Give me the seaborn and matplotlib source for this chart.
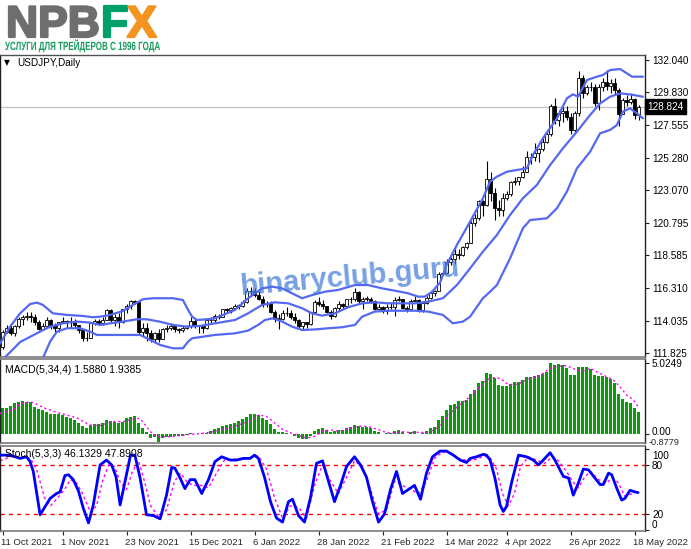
import numpy as np
import pandas as pd
import matplotlib
matplotlib.use("Agg")
import matplotlib.pyplot as plt
import matplotlib.transforms as mtransforms
import matplotlib.patheffects as pe
from matplotlib.textpath import TextPath
from matplotlib.patches import PathPatch
from matplotlib.font_manager import FontProperties
import seaborn as sns

W, H = 691, 549

# ---------------- price data (daily USDJPY candles) ----------------
first_open = 112.23
close = [113.30, 113.60, 113.25, 113.68, 114.21, 114.32, 114.40, 114.32, 113.99, 113.50,
         113.70, 114.12, 113.80, 113.55, 113.97, 114.02, 113.95, 114.05, 113.75, 113.40,
         112.85, 112.90, 113.90, 114.05, 113.90, 114.15, 114.80, 114.10, 114.30, 114.00,
         114.85, 115.10, 115.40, 115.35, 113.30, 113.60, 113.20, 112.80, 113.20, 112.80,
         113.50, 113.55, 113.70, 113.50, 113.40, 113.60, 113.70, 114.05, 113.70, 113.70,
         113.60, 114.10, 114.10, 114.40, 114.35, 114.85, 114.80, 114.95, 115.10, 115.10,
         115.35, 116.10, 116.10, 115.85, 115.55, 115.20, 115.30, 114.65, 114.20, 114.20,
         114.60, 114.60, 114.30, 114.10, 113.70, 113.95, 113.85, 114.65, 115.35, 115.25,
         115.10, 114.70, 114.40, 114.95, 115.25, 115.10, 115.55, 115.55, 116.05, 115.40,
         115.60, 115.60, 115.45, 114.90, 115.00, 114.75, 115.05, 115.00, 115.50, 115.55,
         114.95, 114.90, 115.45, 115.50, 114.80, 115.30, 115.65, 116.00, 116.10, 117.30,
         117.35, 118.15, 118.30, 118.70, 118.60, 119.15, 119.45, 120.80, 121.15, 122.30,
         122.05, 123.85, 122.90, 121.85, 121.70, 122.50, 122.80, 123.60, 123.70, 123.95,
         124.35, 125.35, 125.35, 125.60, 125.90, 126.40, 126.95, 128.90, 127.90, 128.40,
         128.50, 128.10, 127.25, 128.40, 130.80, 129.80, 130.15, 130.15, 129.10, 130.20,
         130.55, 130.25, 130.45, 129.95, 128.35, 129.25, 129.15, 129.35, 128.25, 128.82]
high = [113.45, 113.80, 113.75, 113.80, 114.30, 114.45, 114.70, 114.70, 114.50, 114.10,
        113.90, 114.30, 114.20, 113.90, 114.00, 114.30, 114.10, 114.30, 114.20, 113.80,
        113.50, 113.30, 114.00, 114.20, 114.20, 114.30, 114.90, 114.90, 114.50, 114.60,
        114.90, 115.20, 115.50, 115.50, 115.40, 113.90, 113.90, 113.40, 113.30, 113.50,
        113.60, 113.80, 113.90, 113.70, 113.60, 113.70, 113.80, 114.30, 114.20, 113.80,
        113.80, 114.20, 114.30, 114.50, 114.50, 114.90, 114.95, 115.00, 115.20, 115.20,
        115.50, 116.35, 116.40, 116.30, 116.10, 115.80, 115.40, 115.40, 114.80, 114.50,
        114.80, 115.00, 114.80, 114.60, 114.20, 114.00, 114.00, 114.70, 115.50, 115.70,
        115.50, 115.10, 114.80, 115.00, 115.40, 115.30, 115.60, 115.70, 116.30, 116.10,
        115.70, 115.80, 115.70, 115.50, 115.20, 115.10, 115.20, 115.30, 115.70, 115.80,
        115.60, 115.10, 115.60, 115.80, 115.60, 115.40, 115.80, 116.10, 116.20, 117.40,
        117.40, 118.30, 118.45, 119.10, 119.00, 119.20, 119.50, 120.95, 121.40, 122.40,
        122.40, 125.10, 124.30, 123.20, 122.40, 122.90, 123.00, 123.70, 124.00, 124.00,
        124.70, 125.80, 125.60, 126.30, 126.00, 126.70, 127.10, 129.00, 129.40, 128.60,
        128.80, 128.90, 128.40, 128.50, 131.25, 131.00, 130.30, 130.50, 130.40, 130.40,
        130.80, 131.35, 130.70, 130.80, 130.10, 129.40, 129.60, 129.70, 129.40, 128.95]
low = [112.10, 113.20, 113.10, 113.00, 113.60, 113.80, 114.10, 114.00, 113.80, 113.40,
       113.40, 113.60, 113.50, 113.30, 113.30, 113.90, 113.60, 113.60, 113.60, 113.20,
       112.70, 112.70, 112.90, 113.80, 113.80, 113.80, 114.10, 114.00, 113.70, 113.60,
       113.90, 114.60, 114.90, 115.20, 113.10, 113.00, 112.70, 112.60, 112.60, 112.60,
       112.80, 113.30, 113.40, 113.30, 113.20, 113.30, 113.50, 113.60, 113.60, 113.20,
       113.20, 113.50, 113.90, 114.00, 114.20, 114.30, 114.60, 114.60, 114.90, 114.90,
       115.00, 115.30, 115.80, 115.70, 115.50, 115.00, 115.00, 114.60, 114.00, 113.50,
       114.10, 114.40, 114.20, 113.90, 113.60, 113.50, 113.60, 113.80, 114.60, 115.10,
       114.90, 114.60, 114.20, 114.30, 114.80, 114.90, 115.00, 115.30, 115.40, 115.20,
       114.90, 115.40, 115.30, 114.80, 114.80, 114.60, 114.50, 114.90, 114.40, 115.40,
       114.90, 114.70, 114.90, 115.40, 114.70, 114.70, 115.20, 115.60, 115.80, 116.10,
       117.20, 117.30, 117.90, 118.00, 118.30, 118.50, 119.00, 119.40, 120.60, 121.00,
       121.30, 122.00, 122.30, 121.00, 121.30, 121.30, 122.40, 122.70, 123.40, 123.40,
       123.90, 124.30, 124.90, 125.10, 125.00, 125.80, 126.30, 126.80, 127.60, 127.50,
       127.80, 127.90, 126.95, 127.10, 128.20, 129.40, 129.60, 129.90, 128.90, 128.60,
       129.90, 130.00, 129.80, 129.60, 127.50, 128.30, 128.90, 129.00, 128.00, 127.90]
last_price = 128.824

# Bollinger band lines (bar position, price)
upper_x = [-0.6, 1.9, 4.4, 6.9, 8.6, 10.1, 12.6, 16.1, 20.1, 22.6, 24.4, 26.9, 30.1, 32.6, 35.1, 37.6,
           42.6, 45.1, 46.4, 47.4, 48.6, 51.1, 53.1, 58.1, 61.4, 64.9, 67.4, 69.9, 72.4, 74.9, 77.4,
           80.6, 83.9, 88.1, 91.4, 94.9, 98.1, 101.4, 103.9, 105.6, 107.4, 109.4, 111.0, 113.6, 116.9,
           120.1, 121.9, 123.6, 126.1, 128.6, 131.1, 132.6, 135.1, 138.6, 141.1, 142.6, 143.9, 146.1,
           148.6, 150.1, 151.9, 154.4, 156.1, 157.4, 160.1]
upper_y = [112.51, 113.66, 114.58, 115.22, 115.32, 115.16, 114.58, 114.47, 114.40, 114.31, 114.35,
           114.47, 114.74, 115.16, 115.55, 115.62, 115.62, 115.50, 114.81, 114.35, 114.12, 114.17,
           114.24, 114.81, 115.62, 116.30, 116.42, 116.30, 115.96, 115.62, 115.84, 116.07, 116.19,
           116.53, 116.53, 116.30, 116.14, 115.96, 115.73, 115.73, 116.07, 116.70, 117.90, 119.29,
           120.90, 122.51, 123.66, 124.00, 124.34, 124.46, 124.57, 125.49, 126.64, 128.02, 129.40,
           129.67, 129.51, 130.66, 130.89, 131.01, 131.35, 131.42, 131.12, 130.89, 130.89]
mid_x = [0.1, 4.4, 9.4, 11.9, 15.1, 18.6, 21.9, 24.4, 26.9, 30.1, 33.6, 36.1, 39.4, 42.6, 46.1, 49.4,
         53.1, 58.1, 61.4, 64.9, 68.1, 71.4, 74.9, 77.4, 79.9, 83.1, 86.4, 89.9, 93.1, 96.4, 99.9,
         103.1, 106.4, 110.1, 113.6, 116.9, 120.1, 123.6, 126.9, 130.1, 133.6, 136.9, 140.1, 143.6,
         146.9, 149.4, 151.9, 154.4, 156.9, 160.1]
mid_y = [111.40, 112.60, 113.32, 113.66, 113.89, 114.01, 113.94, 113.78, 113.89, 114.01, 114.17,
         114.17, 114.00, 113.78, 113.66, 113.71, 113.89, 114.12, 114.58, 115.16, 115.34, 115.27,
         114.93, 114.58, 114.42, 114.58, 115.00, 115.27, 115.34, 115.27, 115.27, 115.27, 115.38,
         115.62, 116.53, 117.68, 118.83, 119.98, 121.36, 122.51, 123.43, 124.80, 125.95, 127.10,
         128.25, 129.05, 129.51, 129.74, 129.67, 129.51]
lower_x = [10.1, 11.9, 13.6, 16.1, 19.4, 21.9, 23.6, 26.9, 34.4, 36.1, 39.4, 42.6, 45.1, 46.4, 47.4,
           49.4, 53.1, 58.1, 61.4, 63.9, 65.6, 67.6, 69.9, 72.4, 74.9, 78.1, 81.4, 84.9, 88.1, 89.9,
           93.1, 96.4, 103.1, 106.4, 110.1, 112.6, 115.1, 116.9, 120.1, 121.9, 123.6, 126.9, 130.1,
           131.9, 136.1, 138.6, 141.1, 143.6, 146.9, 149.4, 151.9, 153.6, 155.1, 156.9, 158.6, 160.1]
lower_y = [111.50, 112.63, 113.32, 113.55, 113.55, 113.32, 113.09, 113.09, 113.09, 112.86, 112.40,
           112.17, 112.17, 112.63, 112.86, 112.94, 113.09, 113.20, 113.39, 113.78, 114.12, 114.24,
           114.01, 113.66, 113.43, 113.47, 113.55, 113.62, 113.78, 114.35, 114.70, 114.76, 114.76,
           114.70, 114.47, 113.89, 114.01, 114.35, 115.62, 116.07, 116.53, 118.37, 120.44, 121.01,
           121.13, 121.82, 122.97, 124.57, 125.72, 126.99, 127.22, 127.56, 128.48, 128.71, 128.36,
           128.02]

# MACD(5,34,4) histogram, one value per bar, and its signal line
macd_hist = [1.82, 1.87, 2.01, 2.18, 2.30, 2.37, 2.30, 2.25, 1.94, 1.78,
             1.71, 1.54, 1.40, 1.40, 1.40, 1.35, 1.23, 1.11, 0.97, 0.76,
             0.59, 0.45, 0.64, 0.69, 0.69, 0.76, 0.97, 0.92, 0.88, 0.76,
             0.88, 1.11, 1.23, 1.30, 0.76, 0.40, 0.12, -0.31, -0.19, -0.55,
             -0.31, -0.19, -0.19, -0.17, -0.12, -0.12, -0.07, 0.07, 0.02, 0.02,
             0.05, 0.09, 0.19, 0.36, 0.45, 0.59, 0.64, 0.73, 0.81, 0.92,
             1.04, 1.23, 1.40, 1.45, 1.35, 1.15, 1.00, 0.70, 0.35, 0.15,
             0.12, 0.10, 0.00, -0.12, -0.32, -0.35, -0.38, -0.15, 0.20, 0.35,
             0.40, 0.30, 0.15, 0.20, 0.30, 0.30, 0.40, 0.48, 0.65, 0.55,
             0.50, 0.48, 0.40, 0.20, 0.12, 0.02, 0.05, 0.05, 0.20, 0.28,
             0.12, 0.03, 0.15, 0.22, 0.02, 0.08, 0.22, 0.40, 0.50, 1.00,
             1.30, 1.70, 2.06, 2.13, 2.35, 2.35, 2.42, 2.82, 3.13, 3.60,
             3.77, 4.31, 4.24, 3.96, 3.48, 3.41, 3.41, 3.53, 3.72, 3.72,
             3.84, 4.08, 4.08, 4.15, 4.19, 4.24, 4.38, 5.02, 4.91, 4.95,
             4.91, 4.67, 4.19, 4.19, 4.76, 4.76, 4.76, 4.62, 4.19, 4.15,
             4.15, 4.03, 3.91, 3.60, 2.84, 2.49, 2.30, 2.18, 1.82, 1.59]
macd_sig_x = [-0.6, 2.7, 4.4, 6.9, 8.5, 10.2, 11.9, 13.5, 16.0, 18.5, 20.2, 21.9, 24.4, 26.0, 27.7,
              30.2, 32.7, 34.4, 36.0, 37.7, 39.4, 41.9, 44.4, 46.9, 49.4, 51.9, 54.4, 56.9, 59.4,
              61.9, 64, 66, 68, 70, 72, 74, 76, 78, 80, 82, 84, 86, 88, 90, 92, 94, 96, 98, 100,
              102, 104, 106, 108, 110, 111.9, 114.4, 116.9, 119.4, 121.0, 122.7, 124.4, 126.0,
              127.7, 129.4, 131.9, 134.4, 136.9, 138.5, 141.0, 143.5, 145.2, 146.9, 148.5, 150.2,
              152.7, 154.4, 156.0, 157.7, 158.9]
macd_sig_y = [1.47, 1.71, 2.13, 2.30, 2.13, 1.87, 1.71, 1.54, 1.35, 1.16, 0.88, 0.64, 0.59, 0.76,
              0.88, 0.88, 1.07, 1.11, 0.52, -0.07, -0.19, -0.19, -0.12, -0.02, 0.02, 0.12, 0.28,
              0.45, 0.69, 0.92, 1.35, 1.25, 0.80, 0.33, 0.09, -0.10, -0.30, -0.17, 0.20, 0.30,
              0.20, 0.32, 0.49, 0.57, 0.48, 0.30, 0.10, 0.08, 0.16, 0.10, 0.12, 0.10, 0.30, 0.77,
              1.47, 2.11, 2.65, 3.36, 3.84, 4.00, 3.96, 3.60, 3.48, 3.60, 3.96, 4.15, 4.67, 4.79,
              4.86, 4.55, 4.48, 4.67, 4.43, 4.19, 3.84, 3.36, 2.77, 2.42, 1.94]

# Stochastic(5,3,3): main and signal lines
stoch_x = [-0.6, 1.9, 4.4, 6.0, 6.9, 7.7, 9.4, 11.9, 13.5, 14.4, 15.6, 16.5, 17.7, 19.0, 20.2, 21.5,
           22.7, 24.4, 26.0, 27.3, 28.4, 29.4, 30.6, 32.0, 33.1, 34.4, 36.0, 37.7, 39.4, 41.0, 42.3,
           43.1, 44.4, 45.6, 46.9, 48.1, 49.8, 51.5, 53.1, 54.8, 56.9, 58.5, 60.2, 61.9,
           63, 64, 65.5, 67, 68.5, 70, 71.5, 72.5, 74, 75.5, 77, 78.5, 80, 81.5, 83, 84.5, 86, 88,
           89.5, 91, 92.5, 94, 95.5, 97, 98.5, 100, 101.5, 103, 104.5, 106, 107.5,
           109.4, 111.0, 112.7, 114.4, 116.0, 116.9, 118.5, 120.2, 121.0, 121.9, 123.1, 124.4,
           125.2, 126.0, 127.3, 129.0, 131.0, 132.7, 134.0, 135.2, 136.9, 138.1, 140.2, 141.5,
           142.7, 143.9, 145.2, 146.5, 148.1, 149.4, 150.2, 151.5, 152.3, 153.6, 154.8, 155.6,
           156.9, 158.1, 158.9]
stoch_y = [92, 92, 88, 90, 84, 72, 19, 39, 45, 47, 67, 68, 62, 48, 27, 9, 31, 80, 86, 80, 65, 31,
           59, 92, 92, 64, 19, 18, 14, 43, 77, 76, 64, 51, 62, 62, 45, 62, 84, 90, 86, 86, 88, 88,
           92, 88, 65, 35, 15, 10, 35, 38, 18, 10, 40, 82, 85, 60, 35, 55, 78, 90, 80, 65, 35, 10,
           20, 50, 72, 45, 50, 55, 38, 70, 90,
           97, 97, 92, 86, 83, 88, 90, 93, 92, 86, 64, 31, 23, 29, 59, 92, 90, 86, 80, 86, 95, 86,
           66, 64, 43, 57, 75, 74, 64, 56, 56, 70, 68, 51, 37, 39, 49, 47, 46.13]
stoch_sig_x = [-0.6, 2, 5, 7, 8.5, 10.5, 12, 13.5, 15.5, 17, 18.5, 20, 22, 23.5, 25, 26.5, 28, 29.5,
               31, 32.5, 34, 35.5, 37, 39, 41, 43, 44.5, 46, 47.5, 49.5, 51.5, 53.5, 55.5, 58, 62,
               64, 66, 68, 70, 72, 74, 76, 78, 80, 82, 84, 86, 88, 90, 92, 94, 96, 98, 100, 102,
               104, 106, 108, 110, 112, 114, 116.5, 118.5, 120.5, 122, 123.5, 125, 126.5, 128,
               129.5, 131.5, 133.5, 135.5, 137.5, 139, 141, 142.5, 144, 145.5, 147, 149, 151,
               152.5, 154, 155.5, 157, 158.9]
stoch_sig_y = [85, 90, 90, 88, 75, 40, 30, 38, 50, 62, 58, 45, 22, 30, 60, 80, 78, 58, 50, 72, 85,
               60, 30, 17, 25, 60, 70, 60, 55, 55, 52, 70, 86, 87, 89, 91, 75, 40, 15, 30, 28, 15,
               55, 80, 60, 45, 65, 85, 78, 50, 20, 25, 60, 55, 50, 45, 60, 88, 96, 94, 88, 85, 87,
               91, 88, 75, 45, 30, 45, 78, 90, 86, 82, 90, 85, 72, 60, 52, 65, 72, 62, 58, 64, 58,
               42, 44, 47.89]

price_ticks = [132.040, 129.830, 127.555, 125.280, 123.070, 120.795, 118.585, 116.310, 114.035, 111.825]
date_labels = ["11 Oct 2021", "1 Nov 2021", "23 Nov 2021", "15 Dec 2021", "6 Jan 2022", "28 Jan 2022",
               "21 Feb 2022", "14 Mar 2022", "4 Apr 2022", "26 Apr 2022", "18 May 2022"]

BAND = "#5468f2"
GREEN = "#0a9a0a"
MAGENTA = "#ff00ff"
FRAME = "#7a7a7a"
AXIS_FS = 7.2


def px_axes(fig, left, top, right, bottom):
    return fig.add_axes([left / W, 1 - bottom / H, (right - left) / W, (bottom - top) / H])


def fitted_text(fig, s, left, baseline, width, cap, color, weight="bold"):
    # draw text squeezed into a given pixel box (condensed look of the logo tagline)
    prop = FontProperties(family="Liberation Sans", weight=weight)
    path = TextPath((0, 0), s, size=1, prop=prop)
    ext = path.get_extents()
    sx = width / ext.width
    sy = cap / 0.716
    tr = mtransforms.Affine2D().translate(-ext.x0, 0).scale(sx, sy).translate(left, H - baseline)
    patch = PathPatch(path, facecolor=color, edgecolor="none", transform=tr)
    fig.add_artist(patch)


def shift_label(fig, lab, dx_px=0.0, dy_px=0.0):
    lab.set_transform(lab.get_transform() +
                      mtransforms.ScaledTranslation(dx_px / 100, dy_px / 100, fig.dpi_scale_trans))


def style_panel(ax):
    ax.set_facecolor("white")
    ax.set_xlim(-0.625, 160.625)
    ax.set_xticks([])
    ax.set_xlabel("")
    ax.set_ylabel("")
    for s in ["left", "right"]:
        ax.spines[s].set_color("#202020")
        ax.spines[s].set_linewidth(1)
    for s in ["top", "bottom"]:
        ax.spines[s].set_color(FRAME)
        ax.spines[s].set_linewidth(1.2)
    ax.yaxis.tick_right()
    ax.tick_params(axis="y", which="both", right=True, left=False, direction="out",
                   length=3, width=0.8, color="#202020", labelsize=AXIS_FS, pad=2, labelcolor="black")


def main():
    sns.set_theme(style="white")
    plt.rcParams["font.family"] = ["Liberation Sans", "DejaVu Sans"]

    # bar dates: trading days plus the broker's one Sunday bar
    dates = pd.bdate_range("2021-10-11", "2022-05-19").append(pd.DatetimeIndex(["2022-03-13"])).sort_values()
    idx = np.arange(len(close))
    c = np.array(close)
    o = np.concatenate([[first_open], c[:-1]])
    hi = np.array(high)
    lo = np.array(low)

    fig = plt.figure(figsize=(W / 100, H / 100), dpi=100)
    fig.patch.set_facecolor("white")

    # ---------------- main price window ----------------
    ax = px_axes(fig, 0, 55, 645, 357)
    style_panel(ax)
    ax.spines["top"].set_color("#505050")
    ax.spines["top"].set_linewidth(1)
    ax.set_ylim(111.57, 132.385)
    ax.axhline(last_price, color="#c4c4c4", lw=1, zorder=1)
    ax.vlines(idx, lo, hi, color="black", lw=0.8, zorder=2)
    bull = c >= o
    body = np.maximum(np.abs(c - o), 0.03)
    ax.bar(idx, body, bottom=np.minimum(o, c), width=0.6,
           color=np.where(bull, "white", "black"), edgecolor="black", linewidth=0.6, zorder=3)
    for xs, ys in [(upper_x, upper_y), (mid_x, mid_y), (lower_x, lower_y)]:
        sns.lineplot(x=xs, y=ys, ax=ax, color=BAND, lw=1.6, estimator=None, zorder=4)
    ax.set_yticks(price_ticks)
    ax.set_yticklabels([f"{v:.3f}" for v in price_ticks])
    ax.set_xlabel("")
    ax.set_ylabel("")
    ax.text(1.004, last_price, f"{last_price:.3f}", transform=ax.get_yaxis_transform(),
            ha="left", va="center", fontsize=AXIS_FS, color="white", clip_on=False,
            bbox=dict(boxstyle="square,pad=0.25", fc="black", ec="black"))

    # ---------------- MACD window ----------------
    axm = px_axes(fig, 0, 359, 645, 443)
    style_panel(axm)
    axm.set_ylim(-0.64, 5.33)
    axm.bar(idx, macd_hist, width=0.72, color=GREEN, linewidth=0, zorder=2)
    sns.lineplot(x=macd_sig_x, y=macd_sig_y, ax=axm, color=MAGENTA, lw=1.0,
                 linestyle=(0, (1.5, 2.0)), estimator=None, zorder=3)
    axm.set_yticks([5.0249, 0.0])
    axm.set_yticklabels(["5.0249", "0.00"])
    for lab in axm.get_yticklabels():
        if lab.get_text() == "0.00":
            shift_label(fig, lab, dy_px=2.5)
    axm.set_xlabel("")
    axm.set_ylabel("")
    axm.text(1.006, -0.62, "-0.8779", transform=axm.get_yaxis_transform(), ha="left",
             va="center", fontsize=6.6, clip_on=False)
    axm.text(5 / 645, 0.93, "MACD(5,34,4) 1.5880 1.9385", transform=axm.transAxes,
             ha="left", va="top", fontsize=7.5, color="black")

    # ---------------- Stochastic window ----------------
    axs = px_axes(fig, 0, 446, 645, 531)
    style_panel(axs)
    axs.set_ylim(-0.9, 103.2)
    axs.axhline(80, color="red", lw=1, linestyle=(0, (3, 3)), zorder=1)
    axs.axhline(20, color="red", lw=1, linestyle=(0, (3, 3)), zorder=1)
    sns.lineplot(x=stoch_sig_x, y=stoch_sig_y, ax=axs, color=MAGENTA, lw=1.0,
                 linestyle=(0, (2, 2)), estimator=None, zorder=2)
    sns.lineplot(x=stoch_x, y=stoch_y, ax=axs, color="#0000ff", lw=2.0, estimator=None, zorder=3)
    axs.set_yticks([100, 80, 20, 0])
    axs.set_yticklabels(["100", "80", "20", "0"])
    shifts = {"100": -6, "0": 6}
    for lab in axs.get_yticklabels():
        dy = shifts.get(lab.get_text(), 0)
        if dy:
            shift_label(fig, lab, dy_px=dy)
    axs.text(5 / 645, 0.97, "Stoch(5,3,3) 46.1329 47.8908", transform=axs.transAxes,
             ha="left", va="top", fontsize=7.5, color="black")

    # date axis under the last window
    tick_pos = dates.get_indexer(pd.to_datetime(date_labels, format="%d %b %Y"))
    axs.set_xticks(tick_pos)
    axs.set_xticklabels(date_labels, ha="left")
    axs.tick_params(axis="x", bottom=True, direction="out", length=3, width=0.8,
                    color="#202020", labelsize=6.8, pad=2)
    axs.set_xlabel("")
    axs.set_ylabel("")
    for lab in axs.get_xticklabels():
        shift_label(fig, lab, dx_px=-1.5)

    # ---------------- header: logo, tagline, symbol ----------------
    heavy = lambda col: [pe.withStroke(linewidth=1.6, foreground=col)]
    fig.text(6 / W, 1 - 37 / H, "NPB", fontsize=32, fontweight="bold", color="#6d6e70",
             va="baseline", path_effects=heavy("#6d6e70"))
    fig.text(101 / W, 1 - 37 / H, "F", fontsize=32, fontweight="bold", color="#00a06a",
             va="baseline", path_effects=heavy("#00a06a"))
    fig.text(127 / W, 1 - 37 / H, "X", fontsize=32, fontweight="bold", color="#f39320",
             va="baseline", path_effects=heavy("#f39320"))
    fitted_text(fig, "УСЛУГИ ДЛЯ ТРЕЙДЕРОВ С 1996 ГОДА", left=5, baseline=50, width=155,
                cap=8.5, color="#169b5e")
    fig.text(4 / W, 1 - 63 / H, "▼", fontsize=5.5, color="black", va="center",
             family=["DejaVu Sans"])
    fig.text(17 / W, 1 - 63 / H, "USDJPY,Daily", fontsize=7.2, color="black", va="center")

    # watermark
    fig.text(350 / W, 1 - 277 / H, "binaryclub.guru", fontsize=21, fontweight="bold",
             color="#3d78d8", alpha=0.7, rotation=5, ha="center", va="center")

    fig.savefig("out.png", dpi=100, facecolor="white")
    plt.close(fig)


if __name__ == "__main__":
    main()
